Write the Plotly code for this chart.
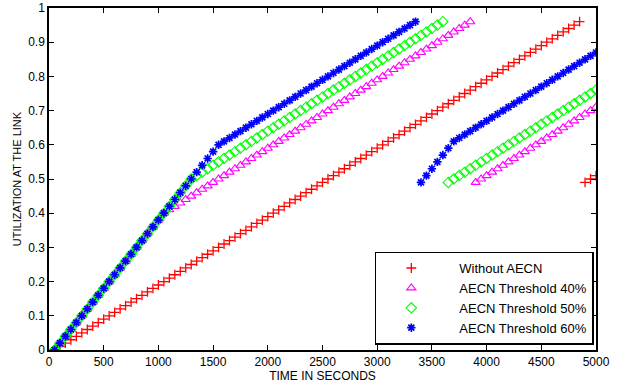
import plotly.graph_objects as go

# Time axis (seconds) shared by all series
time_s = [50, 100, 150, 200, 250, 300, 350, 400, 450, 500,
          550, 600, 650, 700, 750, 800, 850, 900, 950, 1000,
          1050, 1100, 1150, 1200, 1250, 1300, 1350, 1400, 1450, 1500,
          1550, 1600, 1650, 1700, 1750, 1800, 1850, 1900, 1950, 2000,
          2050, 2100, 2150, 2200, 2250, 2300, 2350, 2400, 2450, 2500,
          2550, 2600, 2650, 2700, 2750, 2800, 2850, 2900, 2950, 3000,
          3050, 3100, 3150, 3200, 3250, 3300, 3350, 3400, 3450, 3500,
          3550, 3600, 3650, 3700, 3750, 3800, 3850, 3900, 3950, 4000,
          4050, 4100, 4150, 4200, 4250, 4300, 4350, 4400, 4450, 4500,
          4550, 4600, 4650, 4700, 4750, 4800, 4850, 4900, 4950, 5000]

without_aecn = [0.00, 0.01, 0.02, 0.03, 0.04, 0.05, 0.06, 0.07, 0.08, 0.09,
                0.10, 0.11, 0.12, 0.13, 0.14, 0.15, 0.16, 0.17, 0.18, 0.19,
                0.20, 0.21, 0.22, 0.23, 0.24, 0.25, 0.26, 0.27, 0.28, 0.29,
                0.30, 0.31, 0.32, 0.33, 0.34, 0.35, 0.36, 0.37, 0.38, 0.39,
                0.40, 0.41, 0.42, 0.43, 0.44, 0.45, 0.46, 0.47, 0.48, 0.49,
                0.50, 0.51, 0.52, 0.53, 0.54, 0.55, 0.56, 0.57, 0.58, 0.59,
                0.60, 0.61, 0.62, 0.63, 0.64, 0.65, 0.66, 0.67, 0.68, 0.69,
                0.70, 0.71, 0.72, 0.73, 0.74, 0.75, 0.76, 0.77, 0.78, 0.79,
                0.80, 0.81, 0.82, 0.83, 0.84, 0.85, 0.86, 0.87, 0.88, 0.89,
                0.90, 0.91, 0.92, 0.93, 0.94, 0.95, 0.96, 0.49, 0.50, 0.51]

aecn_40 = [0.00, 0.02, 0.04, 0.06, 0.08, 0.10, 0.12, 0.14, 0.16, 0.18,
           0.20, 0.22, 0.24, 0.26, 0.28, 0.30, 0.32, 0.34, 0.36, 0.38,
           0.40, 0.41, 0.42, 0.43, 0.44, 0.45, 0.46, 0.47, 0.48, 0.49,
           0.50, 0.51, 0.52, 0.53, 0.54, 0.55, 0.56, 0.57, 0.58, 0.59,
           0.60, 0.61, 0.62, 0.63, 0.64, 0.65, 0.66, 0.67, 0.68, 0.69,
           0.70, 0.71, 0.72, 0.73, 0.74, 0.75, 0.76, 0.77, 0.78, 0.79,
           0.80, 0.81, 0.82, 0.83, 0.84, 0.85, 0.86, 0.87, 0.88, 0.89,
           0.90, 0.91, 0.92, 0.93, 0.94, 0.95, 0.96, 0.49, 0.50, 0.51,
           0.52, 0.53, 0.54, 0.55, 0.56, 0.57, 0.58, 0.59, 0.60, 0.61,
           0.62, 0.63, 0.64, 0.65, 0.66, 0.67, 0.68, 0.69, 0.70, 0.71]

aecn_50 = [0.00, 0.02, 0.04, 0.06, 0.08, 0.10, 0.12, 0.14, 0.16, 0.18,
           0.20, 0.22, 0.24, 0.26, 0.28, 0.30, 0.32, 0.34, 0.36, 0.38,
           0.40, 0.42, 0.44, 0.46, 0.48, 0.50, 0.51, 0.52, 0.53, 0.54,
           0.55, 0.56, 0.57, 0.58, 0.59, 0.60, 0.61, 0.62, 0.63, 0.64,
           0.65, 0.66, 0.67, 0.68, 0.69, 0.70, 0.71, 0.72, 0.73, 0.74,
           0.75, 0.76, 0.77, 0.78, 0.79, 0.80, 0.81, 0.82, 0.83, 0.84,
           0.85, 0.86, 0.87, 0.88, 0.89, 0.90, 0.91, 0.92, 0.93, 0.94,
           0.95, 0.96, 0.49, 0.50, 0.51, 0.52, 0.53, 0.54, 0.55, 0.56,
           0.57, 0.58, 0.59, 0.60, 0.61, 0.62, 0.63, 0.64, 0.65, 0.66,
           0.67, 0.68, 0.69, 0.70, 0.71, 0.72, 0.73, 0.74, 0.75, 0.76]

aecn_60 = [0.00, 0.02, 0.04, 0.06, 0.08, 0.10, 0.12, 0.14, 0.16, 0.18,
           0.20, 0.22, 0.24, 0.26, 0.28, 0.30, 0.32, 0.34, 0.36, 0.38,
           0.40, 0.42, 0.44, 0.46, 0.48, 0.50, 0.52, 0.54, 0.56, 0.58,
           0.60, 0.61, 0.62, 0.63, 0.64, 0.65, 0.66, 0.67, 0.68, 0.69,
           0.70, 0.71, 0.72, 0.73, 0.74, 0.75, 0.76, 0.77, 0.78, 0.79,
           0.80, 0.81, 0.82, 0.83, 0.84, 0.85, 0.86, 0.87, 0.88, 0.89,
           0.90, 0.91, 0.92, 0.93, 0.94, 0.95, 0.96, 0.49, 0.51, 0.53,
           0.55, 0.57, 0.59, 0.61, 0.62, 0.63, 0.64, 0.65, 0.66, 0.67,
           0.68, 0.69, 0.70, 0.71, 0.72, 0.73, 0.74, 0.75, 0.76, 0.77,
           0.78, 0.79, 0.80, 0.81, 0.82, 0.83, 0.84, 0.85, 0.86, 0.87]

series_names = ["Without AECN", "AECN Threshold 40%", "AECN Threshold 50%", "AECN Threshold 60%"]
x_ticks = [0, 500, 1000, 1500, 2000, 2500, 3000, 3500, 4000, 4500, 5000]
y_ticks = [0, 0.1, 0.2, 0.3, 0.4, 0.5, 0.6, 0.7, 0.8, 0.9, 1]
y_tick_labels = ["0", "0.1", "0.2", "0.3", "0.4", "0.5", "0.6", "0.7", "0.8", "0.9", "1"]

styles = [
    dict(symbol="cross-thin-open", size=7, color="#FF0000", line=dict(color="#FF0000", width=1.3)),
    dict(symbol="triangle-up-open", size=8, color="#FF00FF", line=dict(color="#FF00FF", width=1.1)),
    dict(symbol="diamond-open", size=8, color="#00FF00", line=dict(color="#00FF00", width=1.1)),
    dict(symbol="asterisk-open", size=7, color="#0000FF", line=dict(color="#0000FF", width=1.7)),
]

fig = go.Figure()
for name, ys, st in zip(series_names, [without_aecn, aecn_40, aecn_50, aecn_60], styles):
    fig.add_trace(go.Scatter(x=time_s, y=ys, mode="markers",
                             name="\u2002\u2002" + name, marker=st))

font = "Liberation Sans, Arial, Helvetica, sans-serif"
axis_common = dict(
    showline=True, linecolor="black", linewidth=1.5, mirror="ticks",
    ticks="inside", ticklen=5, tickwidth=1, tickcolor="black",
    showgrid=False, zeroline=False, automargin=False,
    tickfont=dict(family=font, size=12, color="black"),
)

fig.update_layout(
    width=621, height=384,
    margin=dict(l=49, r=25, t=8, b=34),
    paper_bgcolor="white", plot_bgcolor="white",
    font=dict(family=font, color="black"),
    xaxis=dict(range=[0, 5000], tickvals=x_ticks,
               title=dict(text="TIME IN SECONDS", font=dict(size=12), standoff=0),
               **axis_common),
    yaxis=dict(range=[0, 1], tickvals=y_ticks, ticktext=y_tick_labels,
               title=dict(text="UTILIZATION AT THE LINK", font=dict(size=11), standoff=4),
               **axis_common),
    showlegend=True,
    legend=dict(x=0.996, y=0.016, xanchor="right", yanchor="bottom",
                bgcolor="white", bordercolor="black", borderwidth=1.5,
                font=dict(family=font, size=13, color="black"),
                itemwidth=60, tracegroupgap=0),
)

fig.write_html("out.html", config={"displayModeBar": False},
               post_script="document.body.style.margin='0';")
